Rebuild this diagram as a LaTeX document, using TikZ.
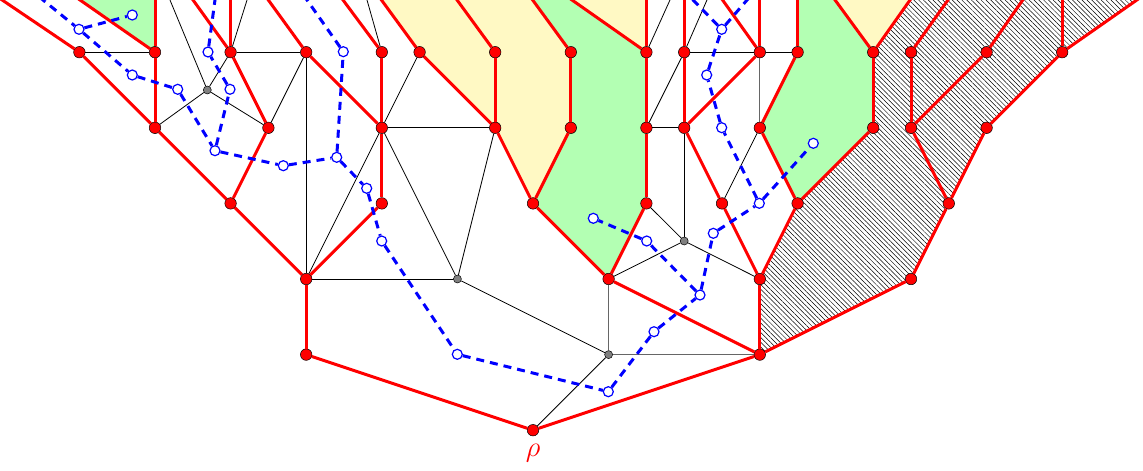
\documentclass[tikz,border=0pt]{standalone}
\usetikzlibrary{patterns.meta}
\definecolor{gfill}{RGB}{179,255,179}
\definecolor{yfill}{RGB}{255,249,196}
\pgfdeclarelayer{bg}
\pgfsetlayers{bg,main}
\tikzset{
 rn/.style={circle,fill=red,draw=black,line width=0.5pt,minimum size=11.5pt,inner sep=0pt},
 gn/.style={circle,fill=gray,draw=black,line width=0.5pt,minimum size=8pt,inner sep=0pt},
 bn/.style={circle,fill=white,draw=blue,line width=1.2pt,minimum size=10pt,inner sep=0pt},
 tr/.style={red,line width=3pt},
 th/.style={black,line width=0.8pt},
 tg/.style={black!60,line width=0.9pt},
 du/.style={blue,line width=3pt,dash pattern=on 8pt off 6pt},
}
\begin{document}
\begin{tikzpicture}[x=1pt,y=-1pt]
\useasboundingbox (0,0) rectangle (1143,471);
\clip (0,0) rectangle (1143,471);
% top coordinates (free ends beyond the top edge)
\coordinate (t1) at (-15.6,-12);
\coordinate (t2) at (62.8,-12);
\coordinate (t3) at (155,-12);
\coordinate (t4) at (184.4,-12);
\coordinate (t5) at (230.6,-12);
\coordinate (t6) at (259.6,-12);
\coordinate (t7) at (334.1,-12);
\coordinate (t8) at (372.7,-12);
\coordinate (t9) at (448.3,-12);
\coordinate (t10) at (523.9,-12);
\coordinate (t11) at (554.9,-12);
\coordinate (t12) at (646.4,-12);
\coordinate (t13) at (684.2,-12);
\coordinate (t14) at (714,-12);
\coordinate (t15) at (759.8,-12);
\coordinate (t16) at (797.6,-12);
\coordinate (t17) at (826.3,-12);
\coordinate (t18) at (918.5,-12);
\coordinate (t19) at (956.5,-12);
\coordinate (t20) at (1031,-12);
\coordinate (t21) at (1062.2,-12);
\coordinate (t22) at (1154,-12);
\coordinate (k1) at (165,-12);
\coordinate (k2) at (250.8,-12);
\coordinate (k3) at (363.6,-12);
\coordinate (k4) at (675.4,-12);
\coordinate (k5) at (712.2,-12);
\coordinate (u1) at (28.3,-12);
\coordinate (u2) at (216.6,-12);
\coordinate (u3) at (298.6,-12);
\coordinate (u4) at (681.2,-12);
\coordinate (u5) at (757.4,-12);
% red vertices
\foreach \n/\x in {2/79.4,4/155,6/230.6,8/306.2,10/381.8,11/419.6,13/495.2,15/570.8,17/646.4,18/684.2,20/759.8,21/797.6,23/873.2,24/911,26/986.6,28/1062.2}
  \node[rn] (a\n) at (\x,52.2) {};
\foreach \n/\x in {4/155,7/268.4,10/381.8,13/495.2,15/570.8,17/646.4,18/684.2,20/759.8,23/873.2,24/911,26/986.6}
  \node[rn] (b\n) at (\x,127.8) {};
\foreach \n/\x in {6/230.6,10/381.8,14/533,17/646.4,19/722,21/797.6,25/948.8}
  \node[rn] (c\n) at (\x,203.4) {};
\foreach \n/\x in {8/306.2,16/608.6,20/759.8,24/911}
  \node[rn] (d\n) at (\x,279) {};
\foreach \n/\x in {8/306.2,20/759.8}
  \node[rn] (e\n) at (\x,354.6) {};
\node[rn] (rho) at (533,430.2) {};
\node[text=red,inner sep=0pt,font=\Huge,scale=1.15] (lab) at (533,453.5) {$\rho$};
% gray vertices
\node[gn] (g1) at (207.3,90) {};
\node[gn] (g2) at (457.4,279) {};
\node[gn] (g3) at (684.2,241) {};
\node[gn] (g4) at (608.6,354.6) {};
% blue vertices
\node[bn] (B1) at (79,29.3) {};
\node[bn] (B2) at (132.3,15) {};
\node[bn] (B3) at (132.3,75) {};
\node[bn] (B4) at (177.7,89.3) {};
\node[bn] (B5) at (208,52) {};
\node[bn] (B6) at (230,89.3) {};
\node[bn] (B7) at (215,150.7) {};
\node[bn] (B8) at (283.3,165.7) {};
\node[bn] (B9) at (343.3,51.7) {};
\node[bn] (B10) at (336.7,157.3) {};
\node[bn] (B11) at (366.7,188.3) {};
\node[bn] (B12) at (381.7,241) {};
\node[bn] (B13) at (457.3,354.3) {};
\node[bn] (B14) at (608.3,391.7) {};
\node[bn] (B15) at (654,331.7) {};
\node[bn] (B16) at (700,295) {};
\node[bn] (B17) at (646.7,241) {};
\node[bn] (B18) at (593.3,218.3) {};
\node[bn] (B19) at (713.3,233.3) {};
\node[bn] (B20) at (759.3,203.3) {};
\node[bn] (B21) at (813.3,143.3) {};
\node[bn] (B22) at (721.7,127.7) {};
\node[bn] (B23) at (706.7,75) {};
\node[bn] (B24) at (721.7,29.3) {};
% coloured regions
\begin{pgfonlayer}{bg}
\clip (0,0) rectangle (1143,471);
\fill[gfill] (t2) -- (a4.center) -- (t3) -- cycle;
\fill[yfill] (t8) -- (a11.center) -- (b13.center) -- (c14.center) -- (b15.center) -- (a15.center) -- (t10) -- cycle;
\fill[gfill] (t10) -- (a15.center) -- (b15.center) -- (c14.center) -- (d16.center) -- (c17.center) -- (b17.center) -- (a17.center) -- (t11) -- cycle;
\fill[yfill] (t11) -- (a17.center) -- (t12) -- cycle;
\fill[gfill] (t16) -- (a21.center) -- (b20.center) -- (c21.center) -- (b23.center) -- (a23.center) -- (t17) -- cycle;
\fill[yfill] (t17) -- (a23.center) -- (t18) -- cycle;
\fill[pattern={Lines[angle=-45,distance=3.4pt,line width=0.5pt]}] (t18) -- (a23.center) -- (b23.center) -- (c21.center) -- (d20.center) -- (e20.center) -- (d24.center) -- (c25.center) -- (b26.center) -- (a28.center) -- (t22) -- cycle;
\end{pgfonlayer}
% thin edges
\foreach \p/\q in {a2/a4,g1/k1,g1/a6,g1/b4,g1/b7,a6/k2,a6/a8,b7/a8,a8/d8,a10/k3,b10/a11,b10/b13,b10/d8,b10/g2,b13/g2,d8/g2,g2/g4,g4/rho,a17/k4,b17/a18,b17/b18,a18/k5,a18/a20,a20/a21,b18/g3,c17/g3,g3/d16,g3/d20,b20/c19}
  \draw[th] (\p) -- (\q);
\foreach \p/\q in {a20/b20,d16/g4,g4/e20}
  \draw[tg] (\p) -- (\q);
% red tree edges
\foreach \p/\q in {a2/t1,a2/b4,a4/t2,a4/t3,a4/b4,b4/c6,a6/t4,a6/t5,a6/b7,b7/c6,c6/d8,a8/t6,a8/b10,a10/t7,a10/b10,b10/c10,c10/d8,d8/e8,e8/rho,a11/t8,a11/b13,a13/t9,a13/b13,b13/c14,a15/t10,a15/b15,b15/c14,c14/d16,a17/t11,a17/t12,a17/b17,b17/c17,c17/d16,d16/e20,a18/t13,a18/b18,b18/a20,b18/c19,a20/t14,a20/t15,a21/t16,a21/b20,b20/c21,c19/d20,c21/d20,d20/e20,e20/rho,c21/b23,a23/t17,a23/t18,a23/b23,a24/t19,a24/b24,b24/a26,b24/c25,a26/t20,a28/t21,a28/t22,a28/b26,b26/c25,c25/d24,d24/e20}
  \draw[tr] (\p) -- (\q);
% blue dashed paths
\foreach \p/\q in {u1/B1,B1/B2,B1/B3,B3/B4,B4/B7,B7/B6,B6/B5,B5/u2,B7/B8,B8/B10,B10/B9,B9/u3,B10/B11,B11/B12,B12/B13,B13/B14,B14/B15,B15/B16,B16/B17,B17/B18,B16/B19,B19/B20,B20/B21,B20/B22,B22/B23,B23/B24,B24/u4,B24/u5}
  \draw[du] (\p) -- (\q);
\end{tikzpicture}
\end{document}
